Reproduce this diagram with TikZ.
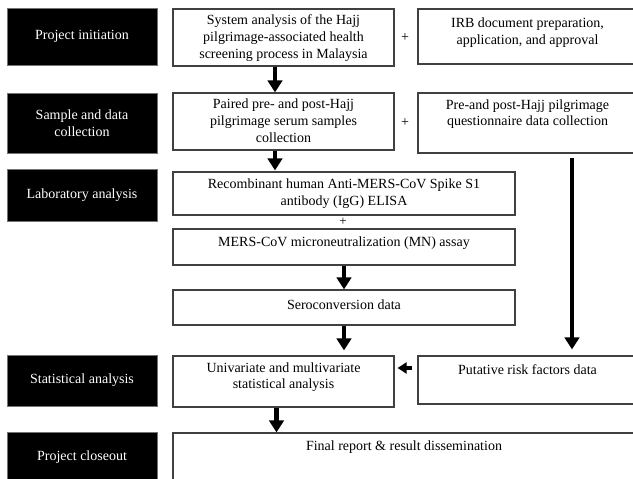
\documentclass[tikz,border=0pt]{standalone}
\usepackage{fontspec}
\setmainfont{Liberation Serif}
\usetikzlibrary{arrows.meta}
\begin{document}
\begin{tikzpicture}[x=1pt,y=-1pt,
  phase/.style={fill=black, draw=black!55, line width=0.8pt, inner sep=0pt},
  phasetxt/.style={text=white, align=center, inner sep=0pt, font=\fontsize{14}{16.5}\selectfont},
  box/.style={draw=black!75, line width=1.2pt, fill=white, inner sep=0pt},
  txt/.style={align=center, inner sep=0pt, font=\fontsize{14}{16.5}\selectfont},
  arr/.style={line width=4.5pt, -{Triangle[width=14.5pt,length=12pt]}},
  harr/.style={line width=4pt, -{Triangle[width=11pt,length=9pt]}},
]
\useasboundingbox (0,0) rectangle (633,479);
\clip (0,0) rectangle (633,479);
\fill[white] (0,0) rectangle (633,479);

% phase boxes (left)
\node[phase, minimum width=150, minimum height=57] (b1) at (82,36.5) {};
\node[phase, minimum width=150, minimum height=60] (b2) at (82,123) {};
\node[phase, minimum width=150, minimum height=52] (b3) at (82,195) {};
\node[phase, minimum width=150, minimum height=51] (b4) at (82,380.5) {};
\node[phase, minimum width=150, minimum height=50] (b5) at (82,457) {};
\node[phasetxt] (t1) at (b1.center) {Project initiation};
\node[phasetxt] (t2) at (b2.center) {Sample and data\\collection};
\node[phasetxt] (t3) at (b3.center) {Laboratory analysis};
\node[phasetxt] (t4) at (b4.center) {Statistical analysis};
\node[phasetxt] (t5) at (b5.center) {Project closeout};

% middle column
\node[box, minimum width=221, minimum height=57] (sys) at (283.5,37.5) {};
\node[box, minimum width=221, minimum height=57] (paired) at (283.5,121.5) {};
\node[box, minimum width=342, minimum height=43] (rec) at (344,193.5) {};
\node[box, minimum width=342, minimum height=36] (mn) at (344,247) {};
\node[box, minimum width=342, minimum height=35] (sero) at (344,307.5) {};
\node[box, minimum width=221, minimum height=51] (uni) at (283.5,381.5) {};
\node[box, minimum width=467, minimum height=57] (final) at (406.5,461.5) {};

% right column
\node[box, minimum width=219, minimum height=55] (irb) at (527.5,36.5) {};
\node[box, minimum width=219, minimum height=60] (pre) at (527.5,123) {};
\node[box, minimum width=219, minimum height=48] (put) at (527.5,380) {};

% texts
\node[txt, font=\fontsize{14}{17}\selectfont] (sysT) at (283.5,38) {System analysis of the Hajj\\pilgrimage-associated health\\screening process in Malaysia};
\node[txt, font=\fontsize{14}{17}\selectfont] (pairedT) at (283.5,120.5) {Paired pre- and post-Hajj\\pilgrimage serum samples\\collection};
\node[txt] (recT) at (344,193.5) {Recombinant human Anti-MERS-CoV Spike S1\\antibody (IgG) ELISA};
\node[txt] (mnT) at (344,243.5) {MERS-CoV microneutralization (MN) assay};
\node[txt] (seroT) at (344,305) {Seroconversion data};
\node[txt] (uniT) at (283.5,377) {Univariate and multivariate\\statistical analysis};
\node[txt] (finalT) at (404,447) {Final report \& result dissemination};
\node[txt] (irbT) at (527.5,32.5) {IRB document preparation,\\application, and approval};
\node[txt] (preT) at (527.5,114) {Pre-and post-Hajj pilgrimage\\questionnaire data collection};
\node[txt] (putT) at (527.5,370) {Putative risk factors data};

% plus signs
\node[txt] (p1) at (405,38) {+};
\node[txt] (p2) at (405,123) {+};
\node[txt, font=\fontsize{13}{14}\selectfont] (p3) at (343,221.5) {+};

% connectors
\coordinate (xa) at (275,0);
\coordinate (xb) at (344,0);
\coordinate (xc) at (572,0);
\coordinate (xd) at (276.5,0);
\coordinate (yh) at (0,368);
\draw[arr] (sys.south -| xa) -- (paired.north -| xa);
\draw[arr, shorten >=1pt] (paired.south -| xa) -- (rec.north -| xa);
\draw[arr] (mn.south -| xb) -- (sero.north -| xb);
\draw[arr, shorten >=5pt] (sero.south -| xb) -- (uni.north -| xb);
\draw[arr, shorten <=4pt, shorten >=6pt] (pre.south -| xc) -- (put.north -| xc);
\draw[harr, shorten <=5pt, shorten >=3pt] (put.west |- yh) -- (uni.east |- yh);
\draw[arr] (uni.south -| xd) -- (final.north -| xd);
\end{tikzpicture}
\end{document}
